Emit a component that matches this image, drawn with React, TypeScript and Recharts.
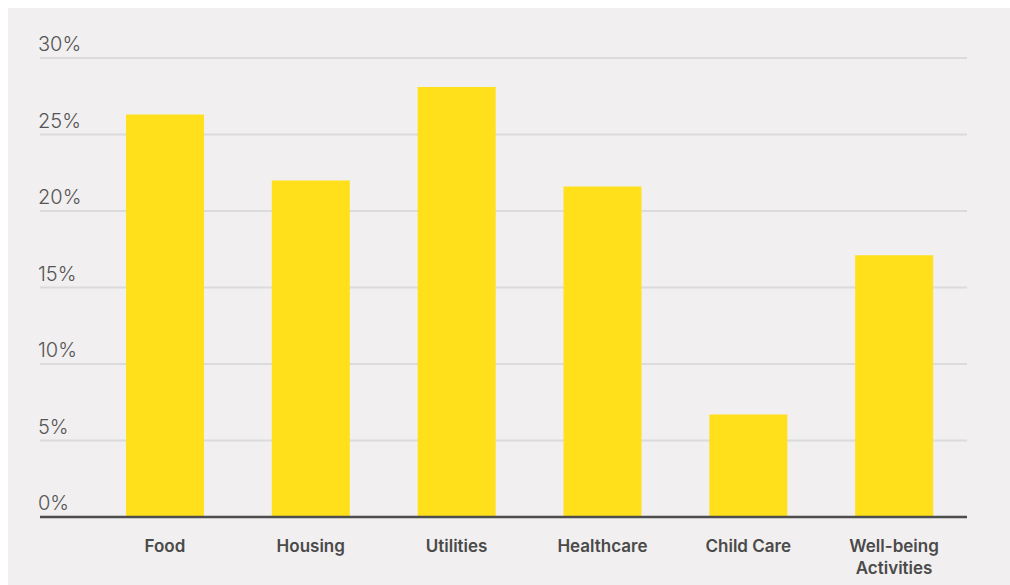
import { BarChart, Bar, XAxis, YAxis, CartesianGrid } from 'recharts'

const categories = ['Food', 'Housing', 'Utilities', 'Healthcare', 'Child Care', 'Well-being Activities']
const shares = [26.3, 22.0, 28.1, 21.6, 6.7, 17.1]
const yTicks = [0, 5, 10, 15, 20, 25, 30]

const data = categories.map((name, i) => ({ name, share: shares[i] }))

const FONT = 'Inter, "Open Sans", sans-serif'

function YTick(props: { x?: number; y?: number; payload?: { value: number } }) {
  const { y, payload } = props
  if (y == null || !payload) return null
  return (
    <text x={30} y={y - 7} textAnchor="start" fontSize={20} fontWeight={300} fill="#555" fontFamily={FONT}>
      {`${payload.value}%`}
    </text>
  )
}

function XTick(props: { x?: number; y?: number; payload?: { value: string } }) {
  const { x, y, payload } = props
  if (x == null || y == null || !payload) return null
  const label = payload.value
  const cut = label.lastIndexOf(' ')
  const lines = label.length > 14 ? [label.slice(0, cut), label.slice(cut + 1)] : [label]
  return (
    <text x={x} y={y + 27} textAnchor="middle" fontSize={17} fontWeight={600} fill="#4a4a4a" fontFamily={FONT}>
      {lines.map((line, i) => (
        <tspan key={line} x={x} dy={i === 0 ? 0 : 22}>
          {line}
        </tspan>
      ))}
    </text>
  )
}

export default function App() {
  return (
    <div
      style={{
        position: 'fixed',
        top: 8,
        left: 8,
        width: 1002,
        height: 577,
        overflow: 'hidden',
        background: '#f1eff0',
      }}
    >
      <BarChart width={1002} height={577} data={data} margin={{ top: 50, right: 43, bottom: 0, left: 0 }} barSize={78}>
        <CartesianGrid vertical={false} stroke="#dcdbdb" strokeWidth={2} />
        <YAxis
          domain={[0, 30]}
          ticks={yTicks}
          width={32}
          axisLine={false}
          tickLine={false}
          tick={<YTick />}
          interval={0}
        />
        <XAxis
          dataKey="name"
          height={68}
          padding={{ left: 52, right: 0 }}
          axisLine={{ stroke: '#4d4d4d', strokeWidth: 2.5 }}
          tickLine={false}
          tick={<XTick />}
          interval={0}
        />
        <Bar dataKey="share" fill="#ffe01b" isAnimationActive={false} />
      </BarChart>
    </div>
  )
}
